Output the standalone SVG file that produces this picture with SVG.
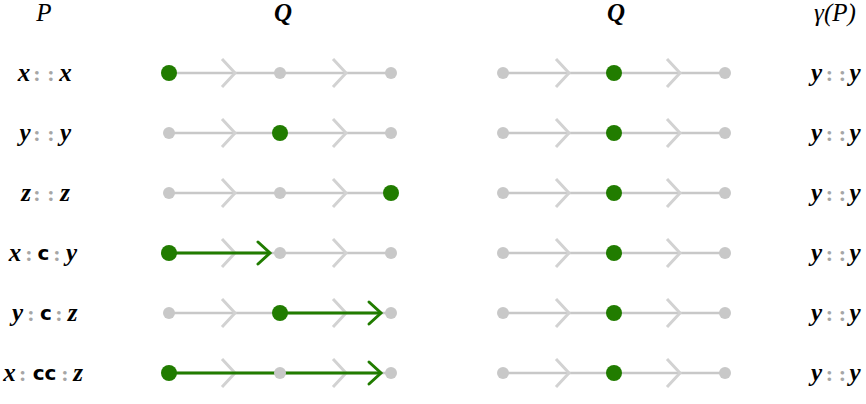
<svg xmlns="http://www.w3.org/2000/svg" width="866" height="404" viewBox="0 0 866 404">
<style>
.bg{fill:#fff}
.v{font-style:italic;font-weight:bold;font-size:25px;fill:#000;text-anchor:middle}
.t{font-style:italic;font-size:25px;fill:#000;text-anchor:middle}
.tb{font-style:italic;font-weight:bold;font-size:25px;fill:#000;text-anchor:middle}
.k{font-weight:bold;font-size:20px;fill:#000;text-anchor:middle}
.c{font-weight:bold;font-size:22px;fill:#a6a6a6;text-anchor:middle}
.track{stroke:#c8c8c8;stroke-width:2.5;fill:none}
.chev{stroke:#d2d2d2;stroke-width:3;fill:none}
.gn{fill:#c8c8c8}
.on{fill:#217c00}
.arr{stroke:#217c00;stroke-width:3;fill:none}
</style>
<defs>
<g id="chev"><polyline class="chev" points="-13,-14 0,0 -13,14"/></g>
<g id="head"><polyline class="arr" points="-12,-11 0,0 -12,11" stroke-linecap="round"/></g>
</defs>
<rect class="bg" width="866" height="404"/>

<g id="headers" font-family="Liberation Serif, DejaVu Serif, Times New Roman, serif">
<text class="t" x="44" y="21">P</text>
<text class="tb" x="283" y="21">Q</text>
<text class="tb" x="616" y="21">Q</text>
<text class="t" x="835" y="21">γ(P)</text>
</g>

<g id="connectors">
<line class="track" x1="169" y1="73" x2="391" y2="73"/>
<line class="track" x1="169" y1="133" x2="391" y2="133"/>
<line class="track" x1="169" y1="193" x2="391" y2="193"/>
<line class="track" x1="169" y1="253" x2="391" y2="253"/>
<line class="track" x1="169" y1="313" x2="391" y2="313"/>
<line class="track" x1="169" y1="373" x2="391" y2="373"/>
<line class="track" x1="503" y1="73" x2="725" y2="73"/>
<line class="track" x1="503" y1="133" x2="725" y2="133"/>
<line class="track" x1="503" y1="193" x2="725" y2="193"/>
<line class="track" x1="503" y1="253" x2="725" y2="253"/>
<line class="track" x1="503" y1="313" x2="725" y2="313"/>
<line class="track" x1="503" y1="373" x2="725" y2="373"/>
<use href="#chev" x="235" y="73"/><use href="#chev" x="346" y="73"/>
<use href="#chev" x="235" y="133"/><use href="#chev" x="346" y="133"/>
<use href="#chev" x="235" y="193"/><use href="#chev" x="346" y="193"/>
<use href="#chev" x="235" y="253"/><use href="#chev" x="346" y="253"/>
<use href="#chev" x="235" y="313"/><use href="#chev" x="346" y="313"/>
<use href="#chev" x="235" y="373"/><use href="#chev" x="346" y="373"/>
<use href="#chev" x="569" y="73"/><use href="#chev" x="680" y="73"/>
<use href="#chev" x="569" y="133"/><use href="#chev" x="680" y="133"/>
<use href="#chev" x="569" y="193"/><use href="#chev" x="680" y="193"/>
<use href="#chev" x="569" y="253"/><use href="#chev" x="680" y="253"/>
<use href="#chev" x="569" y="313"/><use href="#chev" x="680" y="313"/>
<use href="#chev" x="569" y="373"/><use href="#chev" x="680" y="373"/>
<line class="arr" x1="169" y1="253" x2="269" y2="253"/>
<use href="#head" x="270" y="253"/>
<line class="arr" x1="280" y1="313" x2="380" y2="313"/>
<use href="#head" x="381" y="313"/>
<line class="arr" x1="169" y1="373" x2="380" y2="373"/>
<use href="#head" x="381" y="373"/>
</g>

<g id="row1-left"><circle class="on" cx="169" cy="73" r="8"/><circle class="gn" cx="280" cy="73" r="6"/><circle class="gn" cx="391" cy="73" r="6"/></g>
<g id="row2-left"><circle class="gn" cx="169" cy="133" r="6"/><circle class="on" cx="280" cy="133" r="8"/><circle class="gn" cx="391" cy="133" r="6"/></g>
<g id="row3-left"><circle class="gn" cx="169" cy="193" r="6"/><circle class="gn" cx="280" cy="193" r="6"/><circle class="on" cx="391" cy="193" r="8"/></g>
<g id="row4-left"><circle class="on" cx="169" cy="253" r="8"/><circle class="gn" cx="280" cy="253" r="6"/><circle class="gn" cx="391" cy="253" r="6"/></g>
<g id="row5-left"><circle class="gn" cx="169" cy="313" r="6"/><circle class="on" cx="280" cy="313" r="8"/><circle class="gn" cx="391" cy="313" r="6"/></g>
<g id="row6-left"><circle class="on" cx="169" cy="373" r="8"/><circle class="gn" cx="280" cy="373" r="6"/><circle class="gn" cx="391" cy="373" r="6"/></g>

<g id="row1-right"><circle class="gn" cx="503" cy="73" r="6"/><circle class="on" cx="614" cy="73" r="8"/><circle class="gn" cx="725" cy="73" r="6"/></g>
<g id="row2-right"><circle class="gn" cx="503" cy="133" r="6"/><circle class="on" cx="614" cy="133" r="8"/><circle class="gn" cx="725" cy="133" r="6"/></g>
<g id="row3-right"><circle class="gn" cx="503" cy="193" r="6"/><circle class="on" cx="614" cy="193" r="8"/><circle class="gn" cx="725" cy="193" r="6"/></g>
<g id="row4-right"><circle class="gn" cx="503" cy="253" r="6"/><circle class="on" cx="614" cy="253" r="8"/><circle class="gn" cx="725" cy="253" r="6"/></g>
<g id="row5-right"><circle class="gn" cx="503" cy="313" r="6"/><circle class="on" cx="614" cy="313" r="8"/><circle class="gn" cx="725" cy="313" r="6"/></g>
<g id="row6-right"><circle class="gn" cx="503" cy="373" r="6"/><circle class="on" cx="614" cy="373" r="8"/><circle class="gn" cx="725" cy="373" r="6"/></g>

<g id="labels" font-family="Liberation Serif, DejaVu Serif, Times New Roman, serif">
<g id="label-P1"><text class="v" x="24" y="81">x</text><text class="c" x="37" y="81">:</text><text class="c" x="51" y="81">:</text><text class="v" x="65.5" y="81">x</text></g>
<g id="label-P2"><text class="v" x="25" y="141">y</text><text class="c" x="37" y="141">:</text><text class="c" x="51" y="141">:</text><text class="v" x="65.5" y="141">y</text></g>
<g id="label-P3"><text class="v" x="26" y="201">z</text><text class="c" x="37" y="201">:</text><text class="c" x="51" y="201">:</text><text class="v" x="65" y="201">z</text></g>
<g id="label-P4"><text class="v" x="15" y="261">x</text><text class="c" x="29" y="261">:</text><text class="k" x="43.5" y="260" font-family="DejaVu Sans, sans-serif">c</text><text class="c" x="57" y="261">:</text><text class="v" x="71.5" y="261">y</text></g>
<g id="label-P5"><text class="v" x="17.5" y="321">y</text><text class="c" x="31" y="321">:</text><text class="k" x="46" y="320" font-family="DejaVu Sans, sans-serif">c</text><text class="c" x="59" y="321">:</text><text class="v" x="72.5" y="321">z</text></g>
<g id="label-P6"><text class="v" x="9.5" y="381">x</text><text class="c" x="22.7" y="381">:</text><text class="k" x="44.5" y="380" font-family="DejaVu Sans, sans-serif">cc</text><text class="c" x="65" y="381">:</text><text class="v" x="78" y="381">z</text></g>

<g id="label-G1"><text class="v" x="816.5" y="81">y</text><text class="c" x="829.5" y="81">:</text><text class="c" x="842.5" y="81">:</text><text class="v" x="855" y="81">y</text></g>
<g id="label-G2"><text class="v" x="816.5" y="141">y</text><text class="c" x="829.5" y="141">:</text><text class="c" x="842.5" y="141">:</text><text class="v" x="855" y="141">y</text></g>
<g id="label-G3"><text class="v" x="816.5" y="201">y</text><text class="c" x="829.5" y="201">:</text><text class="c" x="842.5" y="201">:</text><text class="v" x="855" y="201">y</text></g>
<g id="label-G4"><text class="v" x="816.5" y="261">y</text><text class="c" x="829.5" y="261">:</text><text class="c" x="842.5" y="261">:</text><text class="v" x="855" y="261">y</text></g>
<g id="label-G5"><text class="v" x="816.5" y="321">y</text><text class="c" x="829.5" y="321">:</text><text class="c" x="842.5" y="321">:</text><text class="v" x="855" y="321">y</text></g>
<g id="label-G6"><text class="v" x="816.5" y="381">y</text><text class="c" x="829.5" y="381">:</text><text class="c" x="842.5" y="381">:</text><text class="v" x="855" y="381">y</text></g>
</g>
</svg>
